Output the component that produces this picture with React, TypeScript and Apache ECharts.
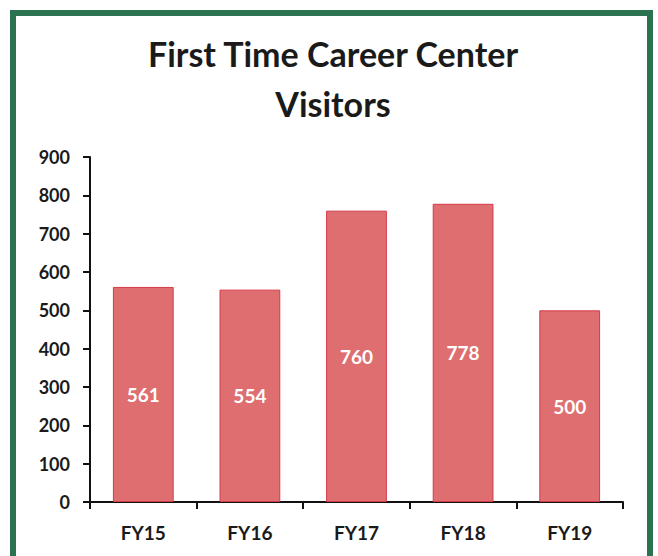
import React, { useEffect, useRef } from "react";
import * as echarts from "echarts";

const categories = ["FY15", "FY16", "FY17", "FY18", "FY19"];
const visitors = [561, 554, 760, 778, 500];
const yTicks = [0, 100, 200, 300, 400, 500, 600, 700, 800, 900];

const FONT = "Lato, 'Open Sans', sans-serif";

export default function App() {
  const ref = useRef<HTMLDivElement>(null);
  useEffect(() => {
    if (!ref.current) return;
    const chart = echarts.init(ref.current, undefined, { renderer: "svg" });
    chart.setOption({
      animation: false,
      backgroundColor: "#ffffff",
      title: {
        text: "First Time Career Center\nVisitors",
        left: 328,
        textAlign: "center",
        top: 23,
        textStyle: {
          fontFamily: FONT,
          fontSize: 34,
          fontWeight: "bold",
          color: "#1a1a1a",
          lineHeight: 50,
        },
      },
      graphic: [
        {
          type: "rect",
          shape: { x: 13, y: 13, width: 637, height: 560 },
          style: { fill: "none", stroke: "#2b7350", lineWidth: 6 },
          silent: true,
        },
      ],
      grid: { left: 90, right: 35, top: 157, bottom: 54 },
      xAxis: {
        type: "category",
        data: categories,
        axisLine: { lineStyle: { color: "#111", width: 2 } },
        axisTick: { show: true, length: 7, lineStyle: { color: "#111", width: 2 } },
        axisLabel: {
          margin: 21,
          fontFamily: FONT,
          fontSize: 19,
          fontWeight: "bold",
          color: "#1a1a1a",
        },
      },
      yAxis: {
        type: "value",
        min: yTicks[0],
        max: yTicks[yTicks.length - 1],
        interval: 100,
        splitLine: { show: false },
        axisLine: { show: true, lineStyle: { color: "#111", width: 2 } },
        axisTick: { show: true, length: 7, lineStyle: { color: "#111", width: 2 } },
        axisLabel: {
          margin: 20,
          fontFamily: FONT,
          fontSize: 18,
          fontWeight: "bold",
          color: "#1a1a1a",
        },
      },
      series: [
        {
          type: "bar",
          data: visitors,
          barWidth: "57%",
          itemStyle: { color: "#de6e70", borderColor: "#d43a48", borderWidth: 1 },
          label: {
            show: true,
            position: "inside",
            fontFamily: FONT,
            fontSize: 19,
            fontWeight: "bold",
            color: "#ffffff",
          },
        },
      ],
    });
    return () => chart.dispose();
  }, []);
  return (
    <div
      ref={ref}
      style={{ position: "fixed", left: 0, top: 0, width: 658, height: 556 }}
    />
  );
}
